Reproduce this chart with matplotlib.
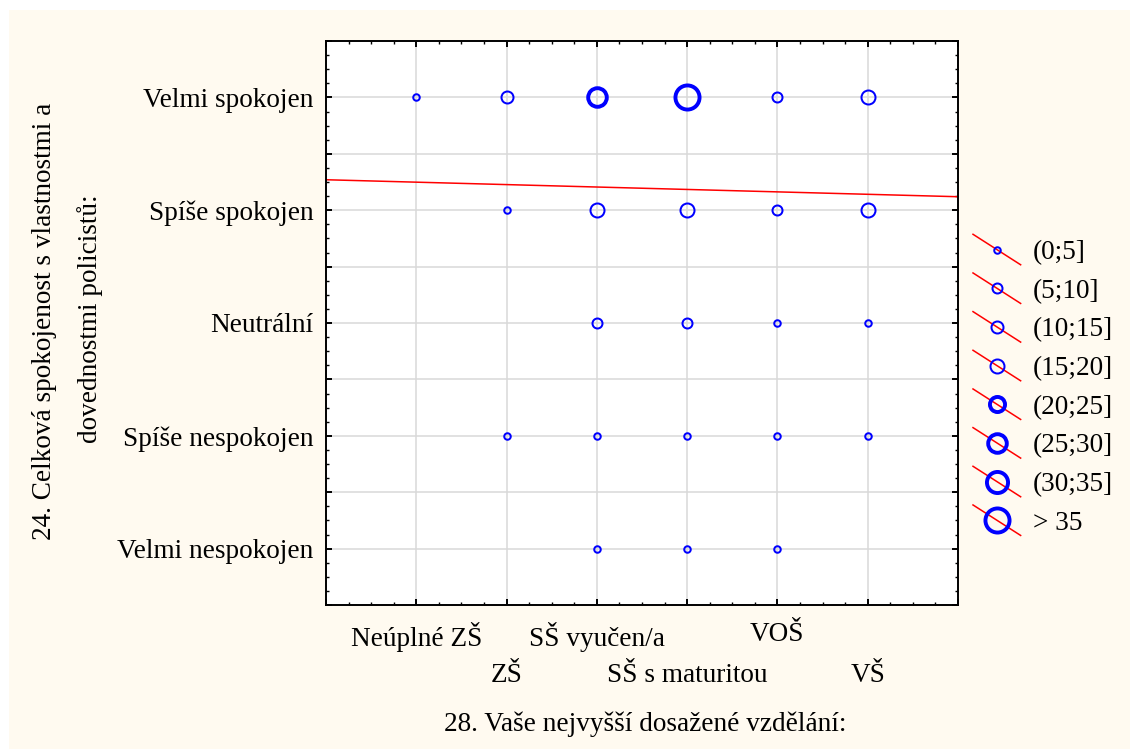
import matplotlib
matplotlib.use("Agg")
import matplotlib.pyplot as plt
import numpy as np
from matplotlib.lines import Line2D
from matplotlib.legend_handler import HandlerBase
from matplotlib.patches import Rectangle
from matplotlib.transforms import ScaledTranslation
from matplotlib.ticker import MultipleLocator

# categories
education = ["Neúplné ZŠ", "ZŠ", "SŠ vyučen/a", "SŠ s maturitou", "VOŠ", "VŠ"]
satisfaction = ["Velmi nespokojen", "Spíše nespokojen", "Neutrální",
                "Spíše spokojen", "Velmi spokojen"]

# counts per cell (rows = satisfaction bottom->top, cols = education)
velmi_nespokojen = [0, 0, 2, 1, 1, 0]
spise_nespokojen = [0, 1, 2, 3, 2, 1]
neutralni = [0, 0, 7, 8, 4, 3]
spise_spokojen = [0, 3, 18, 19, 9, 17]
velmi_spokojen = [2, 12, 28, 40, 8, 17]

# legend bins
bin_edges = [0, 5, 10, 15, 20, 25, 30, 35]
bin_labels = ["(0;5]", "(5;10]", "(10;15]", "(15;20]", "(20;25]",
              "(25;30]", "(30;35]", "> 35"]

# fitted line y = a + b*x
fit_intercept = 4.27
fit_slope = -0.0215

# marker style per bin (outer diameter / edge width in pixels)
diam_px = [8.5, 12, 14, 16, 19, 22.5, 25, 28]
edge_px = [2.0, 2.0, 2.0, 2.0, 3.9, 3.9, 3.9, 3.9]
PX = 72 / 100.0
ms = [(d - e) * PX for d, e in zip(diam_px, edge_px)]
mew = [e * PX for e in edge_px]

BLUE = "#0000ff"
RED = "#ff0000"
CREAM = "#fffaf0"
FONT = "Liberation Serif"
FS = 19.6

plt.rcParams["font.family"] = FONT

fig = plt.figure(figsize=(11.3, 7.49), dpi=100)
fig.patch.set_facecolor("white")
fig.add_artist(Rectangle((9 / 1130, 0), 1, 1 - 10 / 749, transform=fig.transFigure,
                         facecolor=CREAM, edgecolor="none", zorder=-10))

ax = fig.add_axes([326 / 1130, 1 - 605 / 749, 632 / 1130, 564 / 749])
ax.set_facecolor("white")

counts = np.array([velmi_nespokojen, spise_nespokojen, neutralni,
                   spise_spokojen, velmi_spokojen])
xs = np.arange(1, len(education) + 1)
ys = np.arange(1, len(satisfaction) + 1)

for yi, row in zip(ys, counts):
    for xi, c in zip(xs, row):
        if c <= 0:
            continue
        b = min(np.searchsorted(bin_edges, c, side="left") - 1, len(bin_labels) - 1)
        ax.plot(xi, yi, "o", ms=ms[b], mfc="none", mec=BLUE, mew=mew[b], zorder=3)

xline = np.array([0, len(education) + 1])
ax.plot(xline, fit_intercept + fit_slope * xline, color=RED, lw=1.1, zorder=2)

ax.set_xlim(0, len(education) + 1)
ax.set_ylim(0.5, len(satisfaction) + 0.5)

ax.set_xticks(np.arange(0, len(education) + 2))
ax.set_xticklabels([""] + education + [""])
ax.xaxis.set_minor_locator(MultipleLocator(0.25))
ax.set_yticks(np.arange(0.5, len(satisfaction) + 0.51, 0.5))
ylabs = []
for v in np.arange(0.5, len(satisfaction) + 0.51, 0.5):
    ylabs.append(satisfaction[int(v) - 1] if float(v).is_integer() else "")
ax.set_yticklabels(ylabs)
ax.yaxis.set_minor_locator(MultipleLocator(0.125))

ax.grid(True, which="major", color="#d9d9d9", lw=1.1, zorder=0)
ax.set_axisbelow(True)
ax.tick_params(which="both", direction="in", top=True, right=True, color="black")
ax.tick_params(which="major", length=4, width=1.4)
ax.tick_params(which="minor", length=2.2, width=1.0)
ax.tick_params(axis="y", which="major", pad=9, labelsize=FS)
ax.tick_params(axis="x", which="major", pad=12.5, labelsize=FS)
for s in ax.spines.values():
    s.set_linewidth(1.4)
    s.set_color("black")

# stagger x tick labels
shift = ScaledTranslation(0, -41 / 100, fig.dpi_scale_trans)
for i, lab in enumerate(ax.get_xticklabels()):
    if i in (2, 4, 6):
        lab.set_transform(lab.get_transform() + shift)

fig.text(645 / 1130, 1 - 724 / 749, "28. Vaše nejvyšší dosažené vzdělání:",
         ha="center", va="center", fontsize=FS)
fig.text(45 / 1130, 1 - 321 / 749, "24. Celková spokojenost s vlastnostmi a",
         ha="center", va="center", rotation=90, fontsize=FS)
fig.text(90 / 1130, 1 - 319 / 749, "dovednostmi policistů:",
         ha="center", va="center", rotation=90, fontsize=FS)


class DiagonalHandler(HandlerBase):
    def create_artists(self, legend, orig_handle, xdescent, ydescent,
                       width, height, fontsize, trans):
        cx = -xdescent + width / 2
        cy = -ydescent + height / 2
        dy = width * 0.32
        line = Line2D([-xdescent, -xdescent + width], [cy + dy, cy - dy],
                      color=RED, lw=1.1, transform=trans)
        mk = Line2D([cx], [cy], marker="o", ms=orig_handle.get_markersize(),
                    mfc="none", mec=BLUE, mew=orig_handle.get_markeredgewidth(),
                    transform=trans)
        return [line, mk]


handles = [Line2D([], [], marker="o", ms=ms[i], mew=mew[i]) for i in range(len(bin_labels))]
fig.legend(handles, bin_labels, handler_map={Line2D: DiagonalHandler()},
           loc="upper left", bbox_to_anchor=(973 / 1130, 1 - 240 / 749),
           bbox_transform=fig.transFigure, frameon=False, fontsize=FS,
           handlelength=1.75, handletextpad=0.45, labelspacing=0.5,
           borderpad=0, borderaxespad=0)

fig.savefig("out.png", dpi=100, facecolor=fig.get_facecolor())
